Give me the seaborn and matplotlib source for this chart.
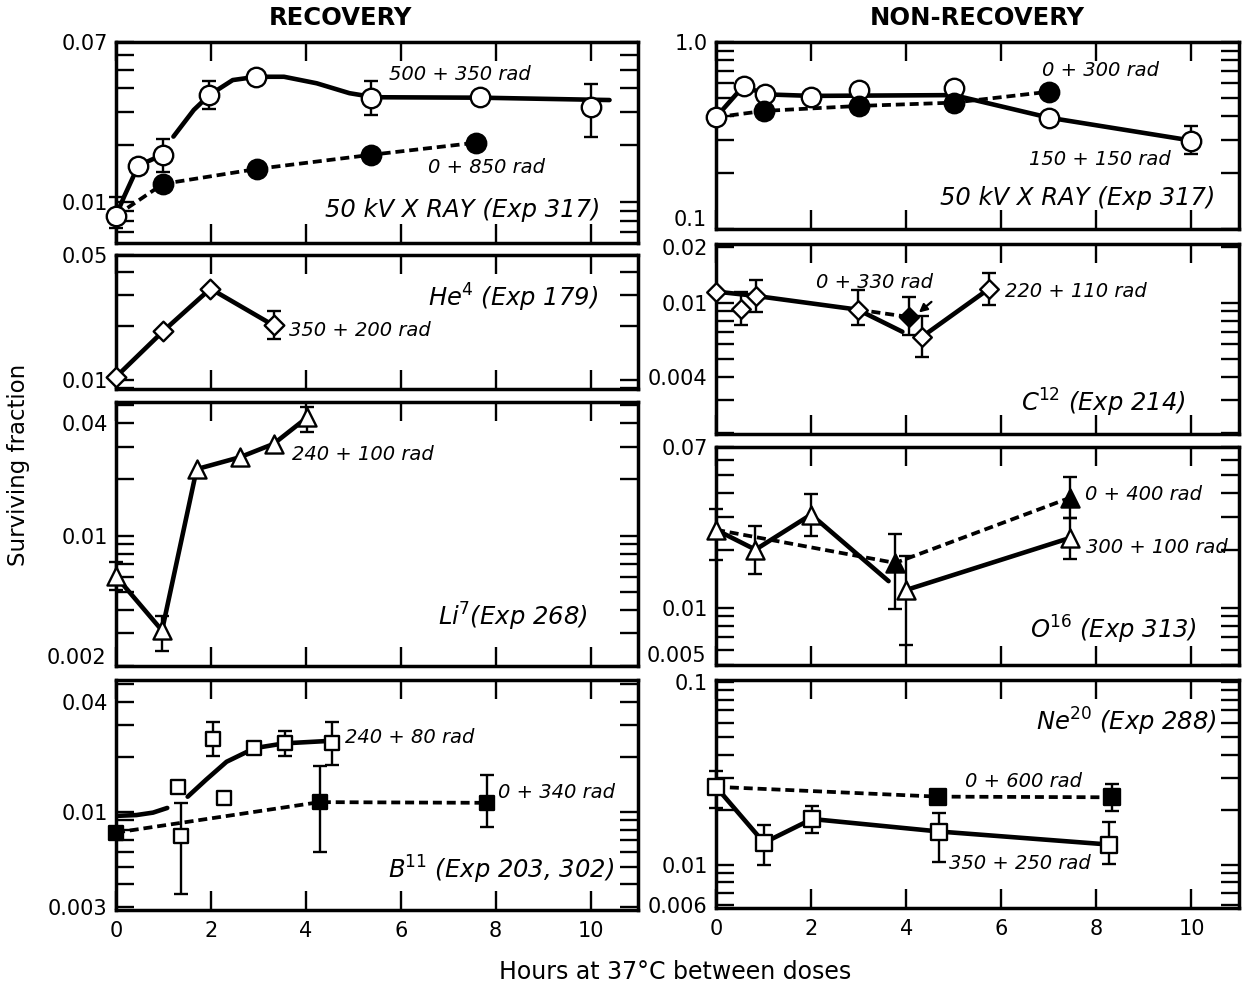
import numpy as np
import pandas as pd
import matplotlib
matplotlib.use("Agg")
import matplotlib.pyplot as plt
from matplotlib.ticker import FixedLocator, FixedFormatter, LogLocator, NullFormatter
from matplotlib.transforms import ScaledTranslation
import seaborn as sns

nan = np.nan

# ---------------------------------------------------------------- data
# hours at 37 C between the two doses / surviving fraction / error limits

# RECOVERY -- 50 kV X ray (Exp 317), 500 + 350 rad
xr_split_h = [0, 0.47, 0.98, 1.97, 2.96, 5.38, 7.67, 10.02]
xr_split_sf = [0.0085, 0.0156, 0.0178, 0.0368, 0.0459, 0.0356, 0.0358, 0.0318]
xr_split_lo = [0.0073, nan, 0.0145, 0.031, nan, 0.0288, nan, 0.0221]
xr_split_hi = [0.0106, nan, 0.0216, 0.0436, nan, 0.0436, nan, 0.042]
xr_curve_h = [0, 0.17, 0.47, 0.98, 1.21, 1.64, 1.97, 2.46, 2.96, 3.54, 4.23, 4.92, 5.44, 7.69, 10.4]
xr_curve_sf = [0.0085, 0.0107, 0.0156, 0.0178, 0.0222, 0.0307, 0.0368, 0.0441, 0.0459,
               0.0459, 0.0424, 0.0376, 0.0358, 0.0356, 0.0346]
xr_curve_seg = [0, 0, 0, 0, 1, 1, 1, 1, 1, 1, 1, 1, 1, 1, 1]
# 0 + 850 rad
xr_single_h = [0.99, 2.98, 5.38, 7.58]
xr_single_sf = [0.0125, 0.015, 0.0178, 0.0206]

# RECOVERY -- He4 (Exp 179), 350 + 200 rad
he_h = [0, 0.99, 1.99, 3.32]
he_sf = [0.0104, 0.0187, 0.0324, 0.0202]
he_lo = [nan, nan, nan, 0.0169]
he_hi = [nan, nan, nan, 0.0242]

# RECOVERY -- Li7 (Exp 268), 240 + 100 rad
li_h = [0, 0.97, 1.70, 2.61, 3.32, 4.03]
li_sf = [0.00605, 0.0031, 0.0227, 0.0263, 0.031, 0.043]
li_lo = [0.0051, 0.0024, nan, nan, nan, 0.0357]
li_hi = [0.0072, 0.0037, nan, nan, nan, 0.049]

# RECOVERY -- B11 (Exp 203, 302), 240 + 80 rad
b_split_h = [1.30, 1.36, 2.05, 2.27, 2.91, 3.56, 4.55]
b_split_sf = [0.0137, 0.0074, 0.0251, 0.0119, 0.0224, 0.0238, 0.0238]
b_split_lo = [nan, 0.00356, 0.0202, nan, nan, 0.0202, 0.0181]
b_split_hi = [nan, 0.0112, 0.031, nan, nan, 0.0277, 0.031]
b_curve_h = [0, 0.43, 0.78, 1.08, 1.51, 1.9, 2.33, 2.76, 2.91, 3.54, 4.55]
b_curve_sf = [0.0095, 0.0096, 0.0099, 0.0105, 0.0121, 0.015, 0.0188, 0.0213, 0.0223, 0.0237, 0.0245]
b_curve_seg = [0, 0, 0, 0, 1, 1, 1, 1, 1, 1, 1]
# 0 + 340 rad
b_single_h = [0, 4.29, 7.82]
b_single_sf = [0.0077, 0.0113, 0.0112]
b_single_lo = [nan, 0.006, 0.0083]
b_single_hi = [nan, 0.0178, 0.0159]

# NON-RECOVERY -- 50 kV X ray (Exp 317), 150 + 150 rad
nx_split_h = [0, 0.58, 1.03, 2.0, 3.0, 5.0, 7.0, 10.0]
nx_split_sf = [0.396, 0.582, 0.525, 0.51, 0.554, 0.565, 0.394, 0.297]
nx_split_lo = [nan, nan, nan, nan, nan, nan, nan, 0.252]
nx_split_hi = [nan, nan, nan, nan, nan, nan, nan, 0.355]
nx_curve_h = [0, 0.58, 1.03, 2.0, 5.0, 7.0, 10.0]
nx_curve_sf = [0.396, 0.582, 0.525, 0.515, 0.52, 0.394, 0.297]
# 0 + 300 rad
nx_single_h = [1.01, 3.0, 5.0, 7.0]
nx_single_sf = [0.428, 0.455, 0.474, 0.542]

# NON-RECOVERY -- C12 (Exp 214), 220 + 110 rad
c_split_h = [0, 0.53, 0.84, 2.98, 4.34, 5.74]
c_split_sf = [0.0115, 0.0093, 0.0109, 0.0092, 0.0066, 0.0119]
c_split_lo = [nan, 0.0076, 0.0089, 0.0076, 0.0051, 0.0097]
c_split_hi = [nan, 0.0115, 0.0133, 0.0117, 0.0085, 0.0145]
c_curve_h = [0, 0.84, 2.98, 3.92, 4.34, 5.74]
c_curve_sf = [0.0115, 0.0109, 0.0092, 0.0070, 0.0066, 0.0119]
c_curve_seg = [0, 0, 0, 0, 1, 1]
# 0 + 330 rad
c_single_h = [4.06]
c_single_sf = [0.0084]
c_single_lo = [0.0067]
c_single_hi = [0.0108]

# NON-RECOVERY -- O16 (Exp 313), 300 + 100 rad
o_split_h = [0, 0.83, 2.0, 4.0, 7.45]
o_split_sf = [0.0257, 0.0202, 0.0309, 0.0124, 0.0233]
o_split_lo = [0.0179, 0.0151, 0.0239, 0.0064, 0.0181]
o_split_hi = [0.0332, 0.027, 0.0398, 0.0186, 0.0298]
o_curve_h = [0, 0.83, 2.0, 3.63, 4.0, 7.45]
o_curve_sf = [0.0257, 0.0202, 0.0309, 0.0138, 0.0124, 0.0233]
o_curve_seg = [0, 0, 0, 0, 1, 1]
# 0 + 400 rad
o_single_h = [3.77, 7.45]
o_single_sf = [0.0172, 0.0379]
o_single_lo = [0.0098, 0.0298]
o_single_hi = [0.0245, 0.0489]

# NON-RECOVERY -- Ne20 (Exp 288), 350 + 250 rad
ne_split_h = [0, 1.01, 2.02, 4.7, 8.27]
ne_split_sf = [0.0267, 0.0132, 0.0178, 0.0152, 0.0129]
ne_split_lo = [0.0205, 0.010, 0.0149, 0.0104, 0.0101]
ne_split_hi = [0.0326, 0.0165, 0.0211, 0.0193, 0.0172]
# 0 + 600 rad
ne_single_h = [4.66, 8.33]
ne_single_sf = [0.0236, 0.0234]
ne_single_lo = [nan, 0.0198]
ne_single_hi = [nan, 0.0277]

hour_ticks = [0, 2, 4, 6, 8, 10]

# ---------------------------------------------------------------- style
sns.set_theme(style="ticks")
plt.rcParams["font.family"] = ["DejaVu Sans"]
plt.rcParams["mathtext.fontset"] = "dejavusans"
plt.rcParams["text.color"] = "black"
plt.rcParams["axes.labelcolor"] = "black"

W, H = 1242, 988
fig = plt.figure(figsize=(W / 100, H / 100), dpi=100)
fig.patch.set_facecolor("white")

SOLID_LW = 3.3
DASH_LW = 2.7
DASH = (0, (2.4, 1.3))
EDGE_LW = 1.7
YLABEL_SIZE = 15
YLABEL_PAD = 6


def make_axes(left, top, width, height, ylim, yticks, ylabels, bottom_row=False,
              raised_bottom=None):
    """Log-scaled panel; a label sitting on the lower edge can be lifted to
    ``raised_bottom`` (axes fraction) so it clears the panel below."""
    ax = fig.add_axes([left / W, 1 - (top + height) / H, width / W, height / H])
    ax.set_yscale("log")
    ax.set_xlim(0, 11)
    ax.set_ylim(*ylim)
    ax.set_facecolor("white")
    ax.xaxis.set_major_locator(FixedLocator(hour_ticks))
    ax.xaxis.set_major_formatter(FixedFormatter([str(t) for t in hour_ticks]))
    shown = list(ylabels)
    if raised_bottom is not None:
        edge_text = shown[0]
        shown[0] = ""
        offset = ScaledTranslation(-(YLABEL_PAD + 1) / 72, 0, fig.dpi_scale_trans)
        ax.text(0, raised_bottom, edge_text, transform=ax.transAxes + offset,
                ha="right", va="center", fontsize=YLABEL_SIZE, color="black")
    ax.yaxis.set_major_locator(FixedLocator(yticks))
    ax.yaxis.set_major_formatter(FixedFormatter(shown))
    ax.yaxis.set_minor_locator(LogLocator(base=10, subs=range(2, 10), numticks=20))
    ax.yaxis.set_minor_formatter(NullFormatter())
    ax.tick_params(axis="both", which="both", direction="in", top=True, right=True,
                   color="black", labelcolor="black")
    ax.tick_params(axis="x", which="major", length=14, width=1.7, labelsize=15, pad=8,
                   labelbottom=bottom_row)
    ax.tick_params(axis="y", which="both", length=13, width=1.7, labelsize=YLABEL_SIZE,
                   pad=YLABEL_PAD)
    for sp in ax.spines.values():
        sp.set_linewidth(2.5)
        sp.set_color("black")
    ax.set_xlabel("")
    ax.set_ylabel("")
    return ax


def draw_trend(ax, hours, frac, seg=None, dashed=False):
    if seg is None:
        seg = [0] * len(hours)
    df = pd.DataFrame({"h": hours, "sf": frac, "seg": seg})
    sns.lineplot(data=df, x="h", y="sf", units="seg", estimator=None, sort=False, ax=ax,
                 color="black", lw=DASH_LW if dashed else SOLID_LW,
                 linestyle=DASH if dashed else "-", legend=False, zorder=2)
    ax.set_xlabel("")
    ax.set_ylabel("")


def draw_bars(ax, hours, frac, lo, hi):
    h = np.asarray(hours, float)
    f = np.asarray(frac, float)
    lo = np.asarray(lo, float)
    hi = np.asarray(hi, float)
    m = ~np.isnan(lo)
    if m.any():
        ax.errorbar(h[m], f[m], yerr=[f[m] - lo[m], hi[m] - f[m]], fmt="none",
                    ecolor="black", elinewidth=1.7, capsize=4.8, capthick=1.7,
                    zorder=3, clip_on=False)


def draw_marks(ax, hours, frac, marker, size, filled=False):
    df = pd.DataFrame({"h": hours, "sf": frac})
    sns.scatterplot(data=df, x="h", y="sf", ax=ax, marker=marker, s=size ** 2,
                    color="black" if filled else "white", edgecolor="black",
                    linewidth=EDGE_LW, zorder=5, legend=False, clip_on=False)
    ax.set_xlabel("")
    ax.set_ylabel("")


def note(ax, fx, fy, text, size=14, ha="left"):
    ax.text(fx, fy, text, transform=ax.transAxes, ha=ha, va="center",
            fontsize=size, style="italic", color="black", zorder=6)


def title(ax, fx, fy, text):
    note(ax, fx, fy, text, size=17.5, ha="right")


# ---------------------------------------------------------------- RECOVERY
ax = make_axes(116, 42, 522, 201, (0.0061, 0.07), [0.01, 0.07], ["0.01", "0.07"])
draw_trend(ax, xr_curve_h, xr_curve_sf, xr_curve_seg)
draw_trend(ax, [xr_split_h[0]] + xr_single_h, [xr_split_sf[0]] + xr_single_sf, dashed=True)
draw_bars(ax, xr_split_h, xr_split_sf, xr_split_lo, xr_split_hi)
draw_marks(ax, xr_single_h, xr_single_sf, "o", 14, filled=True)
draw_marks(ax, xr_split_h, xr_split_sf, "o", 14)
note(ax, 0.523, 0.836, "500 + 350 rad")
note(ax, 0.598, 0.378, "0 + 850 rad")
title(ax, 0.927, 0.164, "50 kV X RAY (Exp 317)")

ax = make_axes(116, 255, 522, 134, (0.0089, 0.05), [0.01, 0.05], ["0.01", "0.05"])
draw_trend(ax, he_h, he_sf)
draw_bars(ax, he_h, he_sf, he_lo, he_hi)
draw_marks(ax, he_h, he_sf, "D", 10)
note(ax, 0.331, 0.435, "350 + 200 rad")
title(ax, 0.923, 0.679, "He$^{4}$ (Exp 179)")

ax = make_axes(116, 402, 522, 264, (0.002, 0.052), [0.002, 0.01, 0.04],
               ["0.002", "0.01", "0.04"], raised_bottom=0.03)
draw_trend(ax, li_h, li_sf)
draw_bars(ax, li_h, li_sf, li_lo, li_hi)
draw_marks(ax, li_h, li_sf, "^", 13)
note(ax, 0.337, 0.803, "240 + 100 rad")
title(ax, 0.904, 0.186, "Li$^{7}$(Exp 268)")

ax = make_axes(116, 680, 522, 230, (0.0029, 0.0527), [0.003, 0.01, 0.04],
               ["0.003", "0.01", "0.04"], bottom_row=True)
draw_trend(ax, b_curve_h, b_curve_sf, b_curve_seg)
draw_trend(ax, b_single_h, b_single_sf, dashed=True)
draw_bars(ax, b_split_h, b_split_sf, b_split_lo, b_split_hi)
draw_bars(ax, b_single_h, b_single_sf, b_single_lo, b_single_hi)
draw_marks(ax, b_single_h, b_single_sf, "s", 9.5, filled=True)
draw_marks(ax, b_split_h, b_split_sf, "s", 9.5)
note(ax, 0.438, 0.752, "240 + 80 rad")
note(ax, 0.732, 0.513, "0 + 340 rad")
title(ax, 0.954, 0.174, "B$^{11}$ (Exp 203, 302)")

# ---------------------------------------------------------------- NON-RECOVERY
ax = make_axes(716, 42, 523, 187, (0.1, 1.0), [0.1, 1.0], ["0.1", "1.0"],
               raised_bottom=0.05)
draw_trend(ax, nx_curve_h, nx_curve_sf)
draw_trend(ax, [nx_split_h[0]] + nx_single_h, [nx_split_sf[0]] + nx_single_sf, dashed=True)
draw_bars(ax, nx_split_h, nx_split_sf, nx_split_lo, nx_split_hi)
draw_marks(ax, nx_split_h, nx_split_sf, "o", 14)
draw_marks(ax, nx_single_h, nx_single_sf, "o", 14, filled=True)
note(ax, 0.623, 0.85, "0 + 300 rad")
note(ax, 0.598, 0.369, "150 + 150 rad")
title(ax, 0.954, 0.166, "50 kV X RAY (Exp 317)")

ax = make_axes(716, 244, 523, 190, (0.00198, 0.0207), [0.004, 0.01, 0.02],
               ["0.004", "0.01", "0.02"])
draw_trend(ax, c_curve_h, c_curve_sf, c_curve_seg)
draw_trend(ax, [c_split_h[3]] + c_single_h, [c_split_sf[3]] + c_single_sf, dashed=True)
draw_bars(ax, c_split_h, c_split_sf, c_split_lo, c_split_hi)
draw_bars(ax, c_single_h, c_single_sf, c_single_lo, c_single_hi)
draw_marks(ax, c_split_h, c_split_sf, "D", 9.5)
draw_marks(ax, c_single_h, c_single_sf, "D", 9.5, filled=True)
note(ax, 0.191, 0.80, "0 + 330 rad")
ax.annotate("", xy=(0.384, 0.63), xytext=(0.416, 0.705), xycoords="axes fraction",
            arrowprops=dict(arrowstyle="-|>", color="black", lw=1.6, mutation_scale=12))
note(ax, 0.553, 0.749, "220 + 110 rad")
title(ax, 0.898, 0.163, "C$^{12}$ (Exp 214)")

ax = make_axes(716, 447, 523, 218, (0.005, 0.07), [0.005, 0.01, 0.07],
               ["0.005", "0.01", "0.07"], raised_bottom=0.04)
draw_trend(ax, o_curve_h, o_curve_sf, o_curve_seg)
draw_trend(ax, [o_split_h[0]] + o_single_h, [o_split_sf[0]] + o_single_sf, dashed=True)
draw_bars(ax, o_split_h, o_split_sf, o_split_lo, o_split_hi)
draw_bars(ax, o_single_h, o_single_sf, o_single_lo, o_single_hi)
draw_marks(ax, o_single_h, o_single_sf, "^", 13, filled=True)
draw_marks(ax, o_split_h, o_split_sf, "^", 13)
note(ax, 0.706, 0.78, "0 + 400 rad")
note(ax, 0.708, 0.537, "300 + 100 rad")
title(ax, 0.92, 0.16, "O$^{16}$ (Exp 313)")

ax = make_axes(716, 680, 523, 228, (0.0058, 0.1026), [0.006, 0.01, 0.1],
               ["0.006", "0.01", "0.1"], bottom_row=True)
draw_trend(ax, ne_split_h, ne_split_sf)
draw_trend(ax, [ne_split_h[0]] + ne_single_h, [ne_split_sf[0]] + ne_single_sf, dashed=True)
draw_bars(ax, ne_split_h, ne_split_sf, ne_split_lo, ne_split_hi)
draw_bars(ax, ne_single_h, ne_single_sf, ne_single_lo, ne_single_hi)
draw_marks(ax, ne_single_h, ne_single_sf, "s", 11, filled=True)
draw_marks(ax, ne_split_h, ne_split_sf, "s", 11)
note(ax, 0.476, 0.554, "0 + 600 rad")
note(ax, 0.446, 0.197, "350 + 250 rad")
title(ax, 0.958, 0.817, "Ne$^{20}$ (Exp 288)")

# ---------------------------------------------------------------- labels
fig.text(340 / W, 1 - 18 / H, "RECOVERY", ha="center", va="center",
         fontsize=17.5, fontweight="bold", color="black")
fig.text(977 / W, 1 - 18 / H, "NON-RECOVERY", ha="center", va="center",
         fontsize=17.5, fontweight="bold", color="black")
fig.text(19 / W, 1 - 465 / H, "Surviving fraction", rotation=90, ha="center",
         va="center", fontsize=16.5, color="black")
fig.text(675 / W, 1 - 972 / H, "Hours at 37°C between doses", ha="center",
         va="center", fontsize=17, color="black")

fig.savefig("out.png", dpi=100, facecolor="white")
